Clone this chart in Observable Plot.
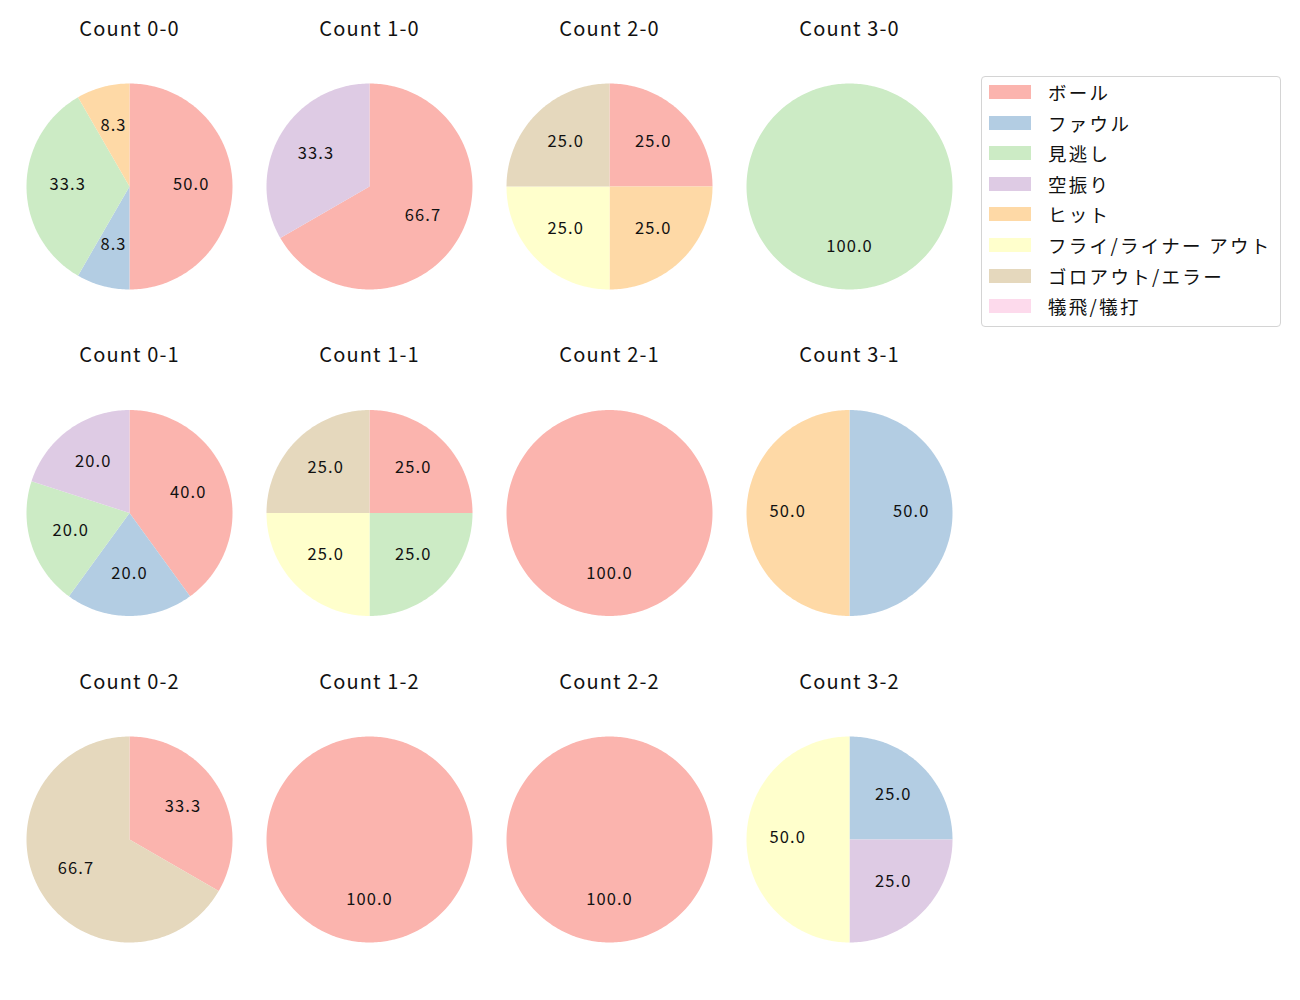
<!DOCTYPE html>
<html><head><meta charset="utf-8">
<script src="https://cdn.jsdelivr.net/npm/d3@7"></script>
<script src="https://cdn.jsdelivr.net/npm/@observablehq/plot@0.6"></script>
<style>
body{margin:0;background:#fff;font-family:"Noto Sans CJK JP",sans-serif}
#wrap{position:relative;width:1300px;height:1000px}
#wrap svg{position:absolute;left:0;top:0}
#wrap svg text{letter-spacing:1.1px}
#legend{position:absolute;left:981px;top:76px;width:300px;height:251px;border:1px solid #d4d4d4;border-radius:4px;background:#fff;box-sizing:border-box}
.row{position:absolute;left:0;height:20px;display:flex;align-items:center}
.sw{position:absolute;left:7px;width:42px;height:14px}
.lb{position:absolute;left:66px;font-size:18.5px;letter-spacing:2.3px;color:#111;white-space:nowrap;line-height:20px}
</style></head><body><div id="wrap"><div id="legend"></div></div>
<script>
const categories = ["ボール","ファウル","見逃し","空振り","ヒット","フライ/ライナー アウト","ゴロアウト/エラー","犠飛/犠打"];
const colors = ["#fbb4ae","#b3cde3","#ccebc5","#decbe4","#fed9a6","#ffffcc","#e5d8bd","#fddaec"];
const ballCounts = [0,1,2,3,0,1,2,3,0,1,2,3];
const strikeCounts = [0,0,0,0,1,1,1,1,2,2,2,2];
// outcome counts per ball-strike count, in category order
const outcomeCounts = [
  [6,1,4,0,1,0,0,0], // 0-0
  [2,0,0,1,0,0,0,0], // 1-0
  [1,0,0,0,1,1,1,0], // 2-0
  [0,0,1,0,0,0,0,0], // 3-0
  [2,1,1,1,0,0,0,0], // 0-1
  [1,0,1,0,0,1,1,0], // 1-1
  [1,0,0,0,0,0,0,0], // 2-1
  [0,1,0,0,1,0,0,0], // 3-1
  [1,0,0,0,0,0,2,0], // 0-2
  [1,0,0,0,0,0,0,0], // 1-2
  [1,0,0,0,0,0,0,0], // 2-2
  [0,1,0,1,0,2,0,0]  // 3-2
];

const RX = 103/240, RY = 103/326.5;
const wedgePts = [], labels = [], titles = [];
const pie = d3.pie().sort(null).startAngle(0).endAngle(2*Math.PI);
outcomeCounts.forEach((vals, i) => {
  const b = ballCounts[i], s = strikeCounts[i];
  const total = d3.sum(vals);
  titles.push({x: b, y: s, text: `Count ${b}-${s}`});
  pie(vals).forEach((arc, j) => {
    if (arc.value <= 0) return;
    const key = `${i}-${j}`;
    wedgePts.push({key, cat: categories[j], x: b, y: s});
    const n = Math.max(2, Math.ceil((arc.endAngle - arc.startAngle) / (Math.PI/180)));
    for (let k = 0; k <= n; k++) {
      const a = arc.startAngle + (arc.endAngle - arc.startAngle) * k / n;
      wedgePts.push({key, cat: categories[j], x: b + Math.sin(a)*RX, y: s - Math.cos(a)*RY});
    }
    const m = (arc.startAngle + arc.endAngle) / 2;
    labels.push({x: b + 0.6*Math.sin(m)*RX, y: s - 0.6*Math.cos(m)*RY, text: (arc.value/total*100).toFixed(1)});
  });
});

const chart = Plot.plot({
  width: 1300, height: 1000, margin: 0,
  style: {fontFamily: '"Noto Sans CJK JP", sans-serif', background: "transparent"},
  x: {domain: [0, 3], range: [129, 849], axis: null},
  y: {domain: [0, 2], range: [186, 839], axis: null},
  color: {domain: categories, range: colors},
  marks: [
    Plot.line(wedgePts, {x: "x", y: "y", z: "key", fill: "cat", stroke: "none", curve: "linear"}),
    Plot.text(labels, {x: "x", y: "y", dy: -1.5, text: "text", fontSize: 16.5, fill: "#111"}),
    Plot.text(titles, {x: "x", y: d => d.y - 157/326.5, text: "text", fontSize: 20, fill: "#111"})
  ]
});
document.getElementById("wrap").prepend(chart);

const legend = document.getElementById("legend");
categories.forEach((c, i) => {
  const row = document.createElement("div");
  row.className = "row";
  row.style.top = (5 + i*30.6) + "px";
  row.innerHTML = `<div class="sw" style="background:${colors[i]}"></div><div class="lb">${c}</div>`;
  legend.appendChild(row);
});
</script>
</body></html>
